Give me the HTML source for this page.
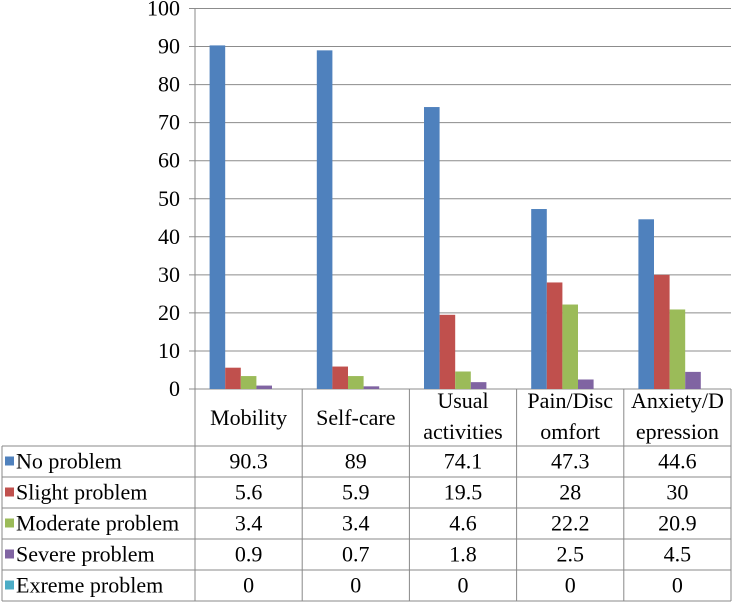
<!DOCTYPE html>
<html><head><meta charset="utf-8"><style>
body{margin:0;background:#fff;}
svg{display:block;font-family:"Liberation Serif",serif;}
</style></head><body>
<svg id="chart" width="733" height="603"></svg>
<script>
const categories=["Mobility","Self-care","Usual activities","Pain/Discomfort","Anxiety/Depression"];
const catLines=[["Mobility"],["Self-care"],["Usual","activities"],["Pain/Disc","omfort"],["Anxiety/D","epression"]];
const seriesNames=["No problem","Slight problem","Moderate problem","Severe problem","Exreme problem"];
const noProblem=[90.3,89,74.1,47.3,44.6];
const slightProblem=[5.6,5.9,19.5,28,30];
const moderateProblem=[3.4,3.4,4.6,22.2,20.9];
const severeProblem=[0.9,0.7,1.8,2.5,4.5];
const extremeProblem=[0,0,0,0,0];
const yTicks=[0,10,20,30,40,50,60,70,80,90,100];
const series=[noProblem,slightProblem,moderateProblem,severeProblem,extremeProblem];
const colors=["#4f81bd","#c0504d","#9bbb59","#8064a2","#4bacc6"];
const NS="http://www.w3.org/2000/svg";
const svg=document.getElementById('chart');
const x0=195,catW=107.2,yTop=8.5,yBot=389,barW=15.6,FS=22;
const y=v=>yBot-(v/100)*(yBot-yTop);
function el(t,a,p){const e=document.createElementNS(NS,t);for(const k in a)e.setAttribute(k,a[k]);(p||svg).appendChild(e);return e;}
yTicks.forEach(t=>{
  const g=el('line',{x1:x0-6,x2:731,y1:y(t),y2:y(t),stroke:'#8c8c8c','stroke-width':1});
  
  
  const tx=el('text',{x:180,y:y(t)+7,'text-anchor':'end','font-size':FS,fill:'#000'});
  tx.textContent=t;
  
  
});
el('line',{x1:x0,x2:x0,y1:yTop,y2:yBot,stroke:'#888'});
categories.forEach((c,i)=>{
  const cx=x0+catW*(i+0.5);
  series.forEach((s,j)=>{
    const v=s[i];
    const r=el('rect',{x:cx-2.5*barW+j*barW,y:y(v),width:barW,height:yBot-y(v),fill:colors[j]});
    
    
  });
});
const rowTop=446,rowH=31,tblL=2,tblR=731;
el('line',{x1:x0,x2:x0,y1:yBot,y2:601,stroke:'#888'});
for(let i=1;i<=5;i++)el('line',{x1:x0+catW*i,x2:x0+catW*i,y1:yBot,y2:601,stroke:'#888'});
el('line',{x1:tblL,x2:tblL,y1:rowTop,y2:601,stroke:'#888'});
for(let r=0;r<=5;r++)el('line',{x1:tblL,x2:tblR,y1:rowTop+r*rowH,y2:rowTop+r*rowH,stroke:'#888'});
catLines.forEach((ls,i)=>{
  const cx=x0+catW*(i+0.5);
  ls.forEach((l,k)=>{
    const yy=ls.length===1?425:408+k*31;
    const t=el('text',{x:cx,y:yy,'text-anchor':'middle','font-size':FS,fill:'#000'});
    t.textContent=l;
    
    
  });
});
seriesNames.forEach((n,j)=>{
  const cy=rowTop+j*rowH+rowH/2;
  const m=el('rect',{x:5,y:cy-5,width:9,height:9,fill:colors[j]});
  
  
  const t=el('text',{x:16,y:cy+7,'font-size':FS,fill:'#000'});
  t.textContent=n;
  
  
  series[j].forEach((v,i)=>{
    const tv=el('text',{x:x0+catW*(i+0.5),y:cy+7,'text-anchor':'middle','font-size':FS,fill:'#000'});
    tv.textContent=v;
    
    
  });
});
</script>
</body></html>
